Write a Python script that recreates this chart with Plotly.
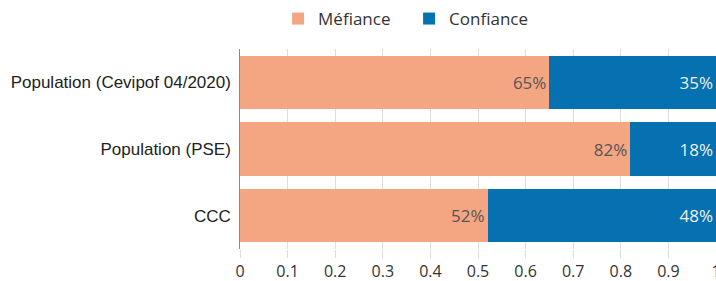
import plotly.graph_objects as go

categories = ["Population (Cevipof 04/2020)", "Population (PSE)", "CCC"]
mefiance = [0.65, 0.82, 0.52]
confiance = [0.35, 0.18, 0.48]
x_ticks = [0, 0.1, 0.2, 0.3, 0.4, 0.5, 0.6, 0.7, 0.8, 0.9, 1]

fig = go.Figure()
fig.add_trace(go.Bar(
    y=categories, x=mefiance, orientation="h", name="Méfiance",
    marker=dict(color="#F4A582", line=dict(width=0)),
    text=[f"{round(v*100)}%" for v in mefiance], textposition="inside",
    insidetextanchor="end",
    textfont=dict(family="Open Sans", size=17, color="#555555"),
))
fig.add_trace(go.Bar(
    y=categories, x=confiance, orientation="h", name="Confiance",
    marker=dict(color="#0571B0", line=dict(width=0)),
    text=[f"{round(v*100)}%" for v in confiance], textposition="inside",
    insidetextanchor="end",
    textfont=dict(family="Open Sans", size=17, color="#f0f0f0"),
))

fig.update_layout(
    width=716, height=281,
    barmode="stack", bargap=0.2,
    margin=dict(l=240, r=0, t=49, b=32, autoexpand=False),
    plot_bgcolor="white", paper_bgcolor="white",
    showlegend=True,
    legend=dict(orientation="h", x=0.08, xanchor="left", y=1.06, yanchor="bottom",
                entrywidth=86,
                font=dict(family="Open Sans", size=17, color="#333333"),
                traceorder="normal"),
    xaxis=dict(range=[0, 1], tickvals=x_ticks,
               ticktext=[str(t) if t not in (0, 1) else str(int(t)) for t in x_ticks],
               ticklabeloverflow="allow", automargin=False,
               showgrid=True, gridcolor="#dddddd", gridwidth=1,
               ticks="outside", ticklen=8, tickcolor="#dddddd",
               tickfont=dict(family="Open Sans", size=16, color="#333333"),
               zeroline=False, showline=False),
    yaxis=dict(autorange="reversed", showline=True, linecolor="#888888", linewidth=1,
               automargin=False,
               ticks="", tickfont=dict(family="Liberation Sans", size=17, color="#222222"),
               ticksuffix=" "),
    uniformtext=dict(mode=False),
)

fig.write_html("out.html", config={"displayModeBar": False},
               post_script="document.body.style.margin='0';document.body.style.overflow='hidden';")
